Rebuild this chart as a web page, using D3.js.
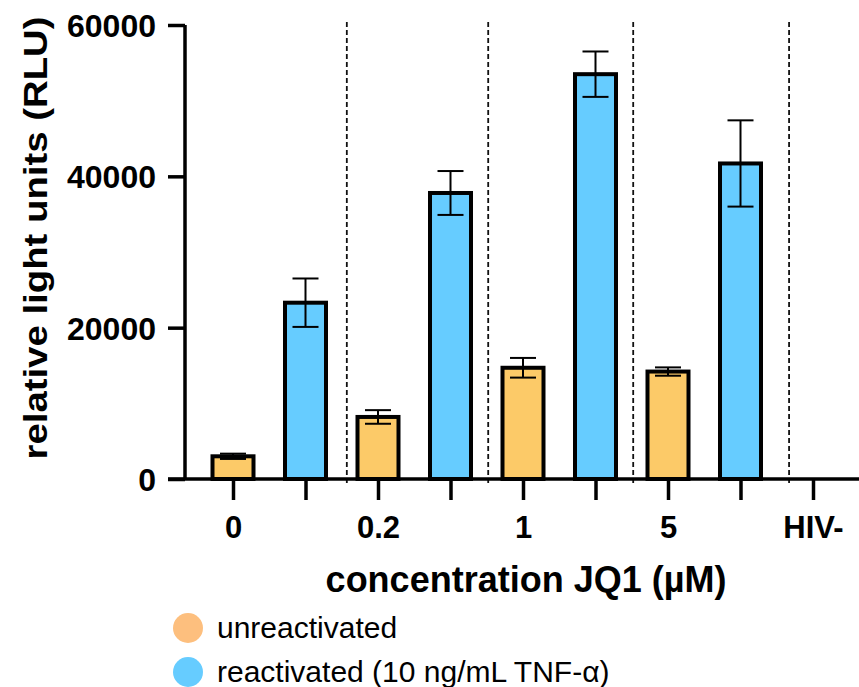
<!DOCTYPE html>
<html>
<head>
<meta charset="utf-8">
<script src="https://cdn.jsdelivr.net/npm/d3@7"></script>
<style>
  html, body { margin: 0; padding: 0; background: #fff; }
  svg { display: block; font-family: "Liberation Sans", Arial, Helvetica, sans-serif; }
</style>
</head>
<body>
<svg id="chart" width="859" height="687"></svg>
<script>
// ---- data ----
const groups = ["0", "0.2", "1", "5", "HIV-"];
const seriesNames = ["unreactivated", "reactivated (10 ng/mL TNF-α)"];
const unreactivated = [3000, 8200, 14700, 14200, 0];
const unreactivatedErr = [350, 900, 1300, 550, 0];
const reactivated = [23300, 37800, 53500, 41700, null];
const reactivatedErr = [3200, 2900, 3000, 5700, null];
const yTicks = [0, 20000, 40000, 60000];
const separators = [1.57, 3.52, 5.52, 7.67]; // in slot units
const xTitle = "concentration JQ1 (µM)";
const yTitle = "relative light units (RLU)";

const colors = ["#FCCA68", "#66CCFF"];
const legendColors = ["#FDBF7E", "#66CCFF"];

// ---- layout ----
const svg = d3.select("#chart");
const slot0 = 233, slotStep = 72.5;
const slotCount = 9;
const x = d3.scaleLinear().domain([0, slotCount - 1]).range([slot0, slot0 + slotStep * (slotCount - 1)]);
const y = d3.scaleLinear().domain([0, 60000]).range([479, 25]);
const yAxisX = 185;
const barW = 41;

// build bar records
const bars = [];
groups.forEach((g, i) => {
  bars.push({slot: 2 * i, v: unreactivated[i], e: unreactivatedErr[i], s: 0});
  if (reactivated[i] != null) bars.push({slot: 2 * i + 1, v: reactivated[i], e: reactivatedErr[i], s: 1});
});

// separators (dashed)
svg.append("g").selectAll("line").data(separators).join("line")
  .attr("x1", d => x(d)).attr("x2", d => x(d))
  .attr("y1", y(60000) - 3).attr("y2", y(0) + 4)
  .attr("stroke", "#111").attr("stroke-width", 1.8)
  .attr("stroke-dasharray", "5,3");

// bars
svg.append("g").selectAll("rect").data(bars.filter(d => d.v > 0)).join("rect")
  .attr("x", d => x(d.slot) - barW / 2)
  .attr("width", barW)
  .attr("y", d => y(d.v))
  .attr("height", d => y(0) - y(d.v))
  .attr("fill", d => colors[d.s])
  .attr("stroke", "#000").attr("stroke-width", 4);

// error bars
const eg = svg.append("g").attr("stroke", "#000").attr("stroke-width", 2);
bars.filter(d => d.v > 0).forEach(d => {
  const cx = x(d.slot);
  eg.append("line").attr("x1", cx).attr("x2", cx).attr("y1", y(d.v + d.e)).attr("y2", y(d.v - d.e));
  eg.append("line").attr("x1", cx - 13).attr("x2", cx + 13).attr("y1", y(d.v + d.e)).attr("y2", y(d.v + d.e));
  eg.append("line").attr("x1", cx - 13).attr("x2", cx + 13).attr("y1", y(d.v - d.e)).attr("y2", y(d.v - d.e));
});

// y axis
const yAxis = d3.axisLeft(y).tickValues(yTicks).tickFormat(d3.format("d")).tickSize(17).tickPadding(12);
const yg = svg.append("g").attr("transform", `translate(${yAxisX},0)`).call(yAxis);
yg.select(".domain").attr("d", `M0,${y(60000)}V${y(0)}`).attr("stroke", "#000").attr("stroke-width", 3.5);
yg.selectAll(".tick line").attr("stroke", "#000").attr("stroke-width", 3.5);
yg.selectAll(".tick text").attr("font-size", 32).attr("font-weight", "bold").attr("fill", "#000")
  .attr("font-family", "Liberation Sans, Arial, sans-serif").attr("dy", "0.36em");

// x axis
const xAxis = d3.axisBottom(x).tickValues(d3.range(slotCount)).tickSize(21)
  .tickFormat(i => (i % 2 === 0 ? groups[i / 2] : ""));
const xg = svg.append("g").attr("transform", `translate(0,${y(0)})`).call(xAxis);
xg.select(".domain").attr("d", `M${yAxisX - 17},0H859`).attr("stroke", "#000").attr("stroke-width", 3.5);
xg.selectAll(".tick line").attr("stroke", "#000").attr("stroke-width", 3.5);
xg.selectAll(".tick text").attr("font-size", 31).attr("font-weight", "bold").attr("fill", "#000")
  .attr("font-family", "Liberation Sans, Arial, sans-serif").attr("y", 59).attr("dy", 0);

// axis titles
svg.append("text").attr("x", 526).attr("y", 592).attr("text-anchor", "middle")
  .attr("font-size", 36).attr("font-weight", "bold").text(xTitle);
svg.append("text").attr("transform", "translate(47,238) rotate(-90)").attr("text-anchor", "middle")
  .attr("font-size", 33).attr("font-weight", "bold")
  .attr("textLength", 443).attr("lengthAdjust", "spacingAndGlyphs").text(yTitle);

// legend
const lg = svg.append("g").selectAll("g").data(seriesNames).join("g")
  .attr("transform", (d, i) => `translate(188,${628 + i * 44})`);
lg.append("circle").attr("r", 15).attr("fill", (d, i) => legendColors[i]);
lg.append("text").attr("x", 29).attr("y", 10).attr("font-size", 30).attr("fill", "#000").text(d => d);
</script>
</body>
</html>
